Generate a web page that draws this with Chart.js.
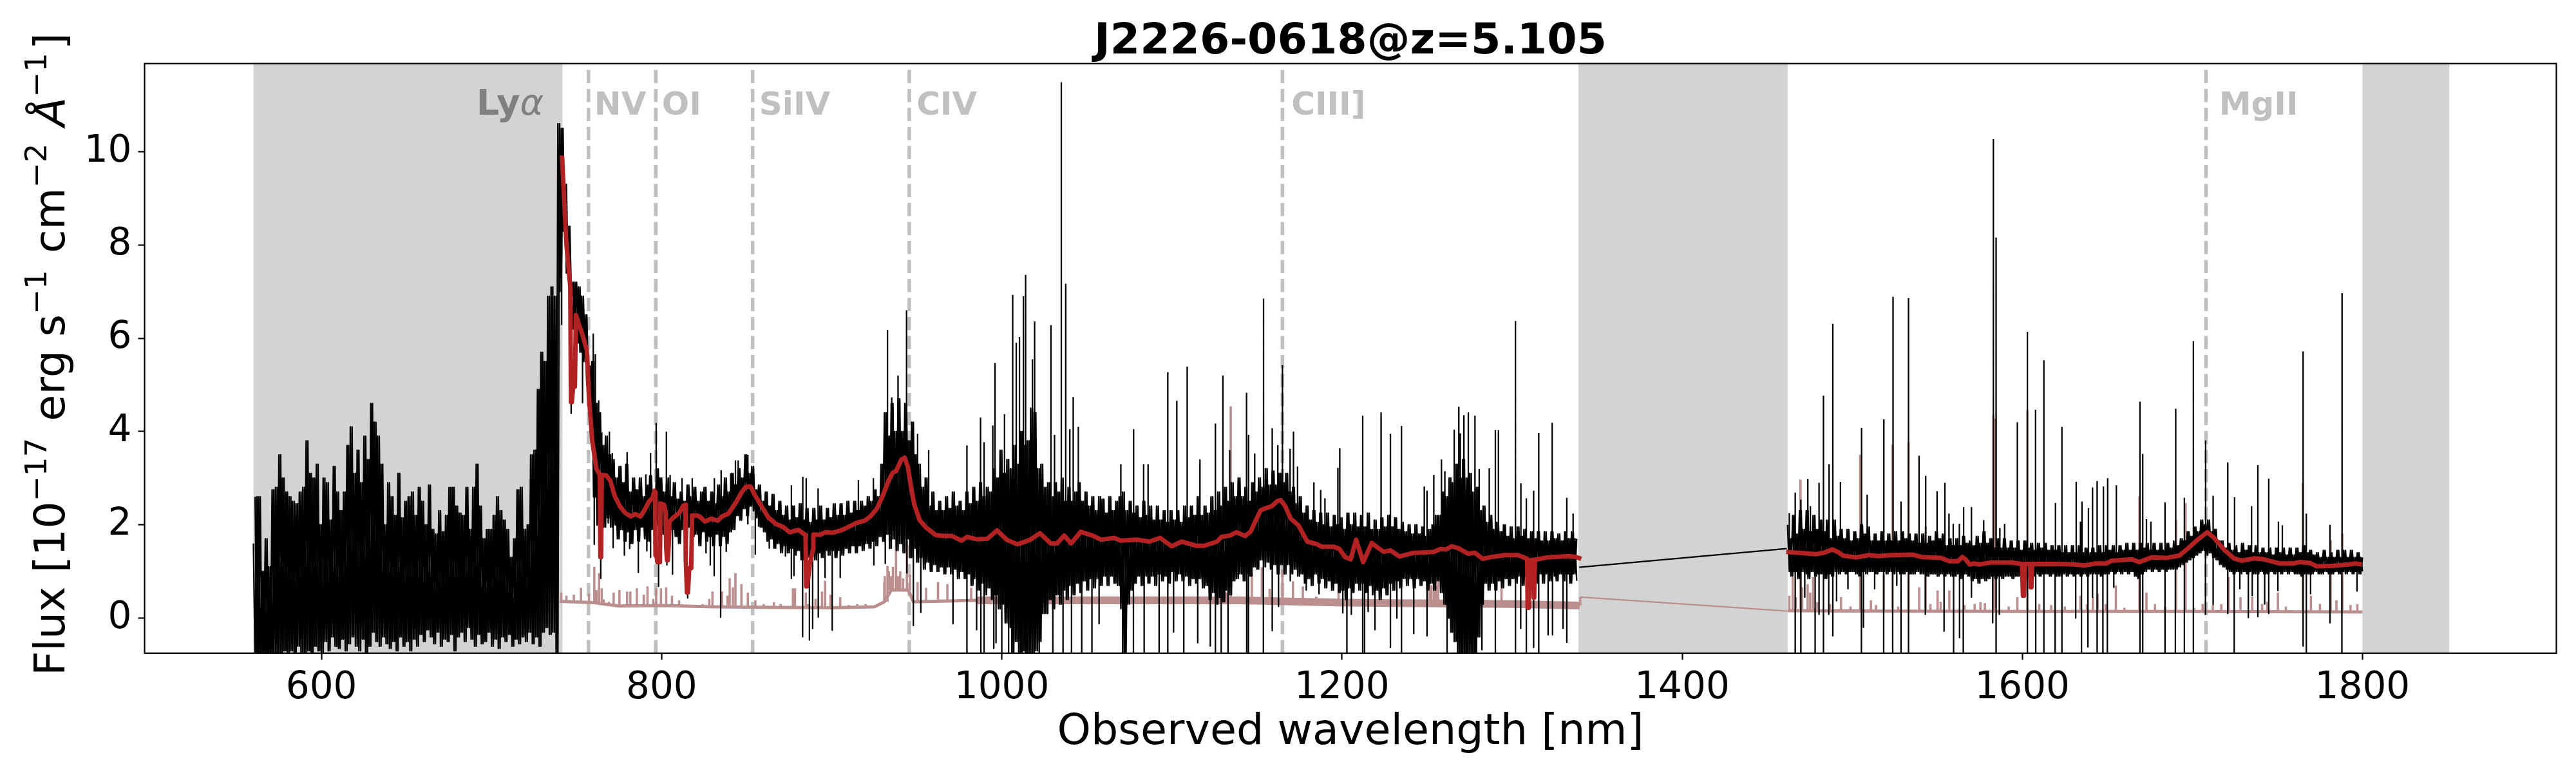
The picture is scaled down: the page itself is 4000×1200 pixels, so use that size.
<!DOCTYPE html>
<html>
<head>
<meta charset="utf-8">
<title>J2226-0618</title>
<script src="https://cdn.jsdelivr.net/npm/chart.js@4"></script>
<style>
  html, body { margin: 0; padding: 0; background: #fff; }
  canvas { display: block; }
</style>
</head>
<body>
<canvas id="spectrum" width="4000" height="1200"></canvas>
<script>
const xTicks = [600, 800, 1000, 1200, 1400, 1600, 1800];
const yTicks = [0, 2, 4, 6, 8, 10];
const xRange = [496, 1914];
const yRange = [-0.753, 11.89];

// grey masked regions, nm
const spanStart = [560, 1339, 1800];
const spanEnd = [741.7, 1462, 1851];

const lineNames = ["NV", "OI", "SiIV", "CIV", "CIII]", "MgII"];
const lineWaves = [757, 796.6, 853.5, 945.6, 1165, 1708];
const lyaWave = 742;

const visStart = 560;
const visHigh = [
  1.6,2.6,2.6,1.0,1.7,1.1,2.75,2.8,3.5,3.0,
  2.7,2.6,2.5,2.45,2.7,2.8,3.8,3.1,3.0,3.3,
  2.0,3.0,2.9,2.1,3.25,2.7,2.3,2.7,3.7,4.1,
  3.1,3.6,2.9,3.9,3.4,4.6,4.2,3.9,3.3,2.0,
  2.9,2.6,2.2,3.1,2.15,2.5,2.6,2.7,2.2,2.8,
  2.5,2.0,2.85,1.9,1.8,2.3,1.85,2.2,2.8,2.8,
  2.4,2.25,2.2,2.8,1.9,2.8,3.3,2.4,1.7,1.9,
  1.9,2.2,2.6,2.3,2.1,1.9,1.3,1.7,2.75,2.8,
  1.9,2.0,3.5,3.6,4.9,5.7,5.5,6.9,7.1,6.9,
  10.6,10.5,9.3,8.4,7.2,7.2,7.1,6.9,6.5,5.4,
  5.5,4.6,4.4,3.7,3.9,3.5,3.4,3.0,3.25,2.9,
  3.3,2.7,3.0,2.75,3.0,2.6,2.85,3.05,2.7,3.2,
  3.0,2.7,3.0,2.6,2.9,2.55,2.7,2.5,2.85,2.6,
  2.8,2.5,2.7,2.8,2.5,2.7,2.45,2.85,2.6,3.0,
  2.7,3.1,2.85,3.2,3.0,3.5,3.1,3.25,2.75,2.85,
  2.5,2.7,2.4,2.65,2.3,2.5,2.2,2.4,2.1,2.4,
  2.15,2.45,2.1,2.35,2.05,2.35,2.1,2.4,2.1,2.35,
  2.15,2.45,2.2,2.45,2.2,2.5,2.25,2.5,2.3,2.5,
  2.4,2.6,2.5,2.75,2.6,3.3,4.4,3.9,4.6,4.0,
  4.7,4.0,4.6,3.8,4.2,3.5,3.3,2.8,3.0,2.4,
  2.7,2.3,2.5,2.3,2.6,2.35,2.7,2.4,2.5,2.3,
  2.7,2.45,2.8,2.5,2.9,2.6,2.8,2.7,3.2,3.0,
  3.6,3.1,3.4,3.2,3.7,3.3,4.0,3.7,3.8,4.5,
  4.4,3.2,3.3,2.8,2.9,2.6,2.9,2.7,3.0,2.5,
  2.8,2.5,2.7,2.9,2.5,2.7,2.4,2.6,2.3,2.6,
  2.55,2.25,2.6,2.3,2.5,2.6,2.7,2.3,2.5,2.25,
  2.4,2.15,2.5,2.2,2.4,2.1,2.4,2.1,2.3,2.05,
  2.3,2.1,2.3,2.05,2.4,2.15,2.4,2.2,2.6,2.2,
  2.4,2.25,2.6,2.3,2.7,2.4,2.8,2.5,2.9,2.6,
  3.0,2.6,2.8,2.5,2.9,2.7,3.0,2.8,3.2,2.85,
  3.15,2.85,3.1,2.9,3.1,2.7,2.8,2.45,2.6,2.25,
  2.4,2.1,2.3,2.05,2.25,2.0,2.25,1.95,2.2,2.0,
  2.15,1.9,2.25,2.0,2.25,1.95,2.2,1.95,2.25,1.9,
  2.1,1.9,2.15,1.95,2.2,1.95,2.15,1.9,2.05,1.85,
  2.0,1.8,2.0,1.8,1.95,1.75,1.9,2.0,2.2,2.2,
  2.7,2.6,3.0,2.9,3.3,3.0,3.4,3.0,3.1,2.7,
  2.8,2.3,2.4,2.05,2.2,1.9,2.05,1.85,2.0,1.75,
  1.95,1.7,1.95,1.75,1.9,1.7,1.85,1.7,1.85,1.65,
  1.85,1.65,1.85,1.7,1.8,1.65,1.85,1.7,1.85,1.7
];
const visLow = [
  -1,-1,-1,-1,-1,-0.9,-0.8,-0.9,-0.8,-0.7,
  -0.8,-0.7,-0.9,-0.6,-0.75,-0.8,-0.7,-0.9,-0.6,-0.7,
  -0.8,-0.5,-0.7,-0.4,-0.6,-0.65,-0.45,-0.7,-0.55,-0.4,
  -0.6,-0.7,-0.45,-0.8,-0.6,-0.3,-0.5,-0.6,-0.4,-0.55,
  -0.65,-0.5,-0.7,-0.4,-0.6,-0.5,-0.7,-0.45,-0.6,-0.35,
  -0.5,-0.25,-0.4,-0.55,-0.3,-0.6,-0.45,-0.5,-0.35,-0.7,
  -0.4,-0.3,-0.5,-0.2,-0.45,-0.6,-0.35,-0.55,-0.5,-0.3,
  -0.6,-0.45,-0.65,-0.4,-0.5,-0.35,-0.6,-0.45,-0.55,-0.4,
  -0.5,-0.3,-0.55,-0.4,-0.6,-0.3,-0.2,-0.35,-0.3,-0.9,
  7.0,8.3,7.4,6.8,6.2,5.9,5.7,5.5,5.0,4.2,
  2.6,2.0,2.3,1.95,2.15,1.95,2.0,1.7,1.9,1.65,
  1.85,1.6,1.9,1.65,1.95,1.7,1.65,1.9,1.75,2.0,
  1.8,1.95,1.7,1.9,1.75,1.6,1.9,1.7,1.95,1.75,
  1.8,1.55,1.85,1.65,1.75,1.55,1.8,1.55,1.75,1.6,
  1.85,1.9,2.2,2.1,2.35,2.2,2.4,2.3,2.15,1.95,
  1.85,1.65,1.7,1.5,1.6,1.4,1.55,1.4,1.5,1.35,
  1.45,1.25,1.4,1.3,1.45,1.25,1.4,1.3,1.45,1.35,
  1.45,1.3,1.45,1.35,1.5,1.4,1.55,1.4,1.55,1.45,
  1.6,1.5,1.65,1.55,1.75,1.65,1.8,1.5,1.7,1.45,
  1.6,1.4,1.7,1.3,1.5,1.2,1.3,1.05,1.2,1.0,
  1.15,1.0,1.1,0.95,1.1,0.95,1.05,0.85,1.0,0.85,
  0.95,0.7,0.85,0.6,0.75,0.5,0.65,0.4,0.5,0.2,
  0.3,-0.1,-0.2,-0.8,-0.5,-0.9,-0.7,-1,-0.8,-1,
  -0.7,-0.5,0.1,0.1,0.4,0.2,0.5,0.3,0.6,0.4,
  0.7,0.5,0.75,0.55,0.8,0.6,0.85,0.65,0.85,0.7,
  0.9,0.7,0.9,0.75,0.7,0.2,-0.9,0.3,0.6,0.75,
  0.9,0.7,0.9,0.75,0.9,0.7,0.95,0.8,0.9,0.75,
  1.0,0.8,0.95,0.8,0.9,0.7,0.85,0.75,0.85,0.65,
  0.7,0.4,0.55,0.3,0.45,0.35,0.6,0.5,0.8,0.85,
  0.95,0.8,0.95,0.9,1.1,1.05,1.25,1.1,1.2,1.05,
  1.15,0.95,1.15,0.95,1.15,0.95,1.05,0.9,0.95,0.75,
  0.85,0.7,0.95,0.75,0.85,0.65,0.8,0.6,0.75,0.55,
  0.6,0.4,0.65,0.55,0.75,0.6,0.75,0.55,0.7,0.5,
  0.6,0.4,0.65,0.5,0.75,0.6,0.8,0.65,0.85,0.7,
  0.85,0.65,0.85,0.7,0.8,0.6,0.75,0.6,0.8,0.55,
  0.3,0,-0.3,-0.5,-0.9,-1,-1,-1,-0.9,-1,
  -0.4,0.3,0.75,0.6,0.75,0.6,0.8,0.65,0.85,0.7,
  0.85,0.75,0.9,0.7,0.9,0.75,0.9,0.75,0.95,0.75,
  0.95,0.8,0.9,0.8,0.95,0.8,0.95,0.75,0.95,0.8
];
const nirStart = 1462;
const nirHigh = [
  2.0,1.7,2.2,1.8,2.3,1.9,2.3,1.85,2.2,1.9,
  2.1,1.85,2.1,1.7,2.1,1.75,1.9,1.7,1.9,1.65,
  1.85,1.7,2.0,1.8,1.95,1.65,1.8,1.65,1.85,1.65,
  1.8,1.65,1.85,1.65,1.85,1.7,1.8,1.65,1.8,1.6,
  1.8,1.6,1.75,1.65,1.85,1.7,1.8,1.55,1.7,1.55,
  1.7,1.55,1.75,1.6,1.65,1.55,1.75,1.6,1.85,1.6,
  1.7,1.5,1.7,1.5,1.7,1.5,1.65,1.5,1.65,1.45,
  1.65,1.5,1.6,1.45,1.6,1.5,1.6,1.45,1.55,1.45,
  1.55,1.4,1.55,1.4,1.55,1.4,1.55,1.4,1.5,1.4,
  1.5,1.4,1.55,1.4,1.55,1.45,1.55,1.4,1.55,1.45,
  1.6,1.45,1.6,1.45,1.6,1.5,1.6,1.45,1.6,1.45,
  1.6,1.45,1.6,1.5,1.65,1.55,1.7,1.65,1.85,1.75,
  1.95,1.85,2.1,2.0,2.1,1.85,1.9,1.65,1.65,1.5,
  1.6,1.45,1.55,1.4,1.6,1.45,1.55,1.4,1.55,1.4,
  1.5,1.4,1.5,1.35,1.5,1.4,1.5,1.35,1.5,1.35,
  1.5,1.4,1.55,1.4,1.45,1.35,1.4,1.3,1.45,1.3,
  1.4,1.3,1.45,1.3,1.45,1.3,1.45,1.3,1.4,1.3
];
const nirLow = [
  1.0,0.9,1.0,0.85,1.0,0.95,0.85,1.0,0.9,0.95,
  0.95,0.85,0.95,0.9,1.0,0.95,1.0,0.95,1.0,1.0,
  0.95,0.9,1.0,0.95,1.0,1.0,0.95,1.0,1.0,0.95,
  1.0,0.95,1.0,0.95,0.95,1.0,0.95,0.95,1.0,0.95,
  0.95,0.9,0.95,0.95,0.9,0.95,0.9,0.95,0.9,0.9,
  0.95,0.85,0.95,0.9,0.8,0.85,0.75,0.85,0.8,0.85,
  0.9,0.85,0.9,0.85,0.9,0.9,0.85,0.9,0.9,0.9,
  0.9,0.85,0.9,0.95,0.9,0.95,0.95,0.9,0.95,0.9,
  0.9,0.95,0.9,0.95,0.9,0.95,0.9,0.95,0.9,0.95,
  0.95,0.95,0.9,0.95,0.95,1.0,0.95,1.0,0.95,1.0,
  0.95,1.0,0.9,0.85,0.95,1.0,1.05,1.0,1.05,1.0,
  1.05,1.0,1.05,1.05,1.05,1.1,1.15,1.2,1.25,1.3,
  1.35,1.4,1.45,1.35,1.4,1.3,1.25,1.15,1.1,1.05,
  1.0,0.95,1.0,0.95,1.0,0.95,1.0,0.95,0.95,1.0,
  0.95,0.95,1.0,0.95,1.0,0.95,1.0,0.95,1.0,0.95,
  0.95,0.9,0.95,0.95,0.95,1.0,0.95,0.95,1.0,0.95,
  0.95,1.0,0.95,1.0,0.95,1.0,0.95,1.0,0.95,1.0
];
// thin line across the gap
const gapWave = [1339.5, 1461.5];
const gapFlux = [1.09, 1.49];

// single pixels sticking out of the noise
const peakWave = [
  759.8,761,763,764.8,769.3,771,776,779.7,790.7,793.5,796.8,802.8,805,812,818,831,835,840.6,843.4,845,850.7,
  876.3,883,885,892,915.7,924.5,932.8,935.3,939,944,
  950.5,957,979.5,987.5,989.6,994.7,996,1001.6,1006.4,1008.5,1010.4,1012.7,1014,1018,1019.3,1028.9,1031,1035,1037.6,1040,1042,1045,
  1070,1077.5,1083.4,1086,1097.6,1102.9,1109,1116.5,1125.6,1130,1134,
  1143.9,1145.1,1148.7,1153.9,1159,1162.3,1165,1169.5,1171.5,1173.9,1183.5,1187.5,1190,1197.6,1198.7,1212.2,1223,1228.5,1235,
  1248.4,1250,1254,1258.5,1260.5,1266,1268.7,1269.6,1271.7,1274.3,1278.2,1280.7,1286.6,1290.2,1292,1302,1305.2,1308.4,1312.7,1315.7,1323.6,1332.2,1335.9,
  1463,1466.5,1469.8,1473.9,1475.4,1480.5,1483.1,1486.4,1488.6,1493.1,1505.5,1508.8,1518.6,1524,1528.7,1533.1,1539.3,1543.2,1549.9,1554.5,1556.9,1559.4,1563,1565.5,1570.1,1577.3,
  1583,1584.6,1586.8,1589.6,1597.1,1603,1607.8,1612.7,1619.5,1623.3,
  1631.7,1634.2,1635.1,1638.9,1641.3,1644,1647.7,1650.2,1655.3,1669.2,1670.8,1673,1675.6,1683.9,1690.2,1695.3,1700.6,1707.8,1712.2,1720.8,1724.8,1734.8,1738.5,1744.9,1750.6,1752.9,1765.1,1767,1780.9,1788
];
const peakFlux = [
  6.1,5.66,4.67,3.98,4.0,3.54,3.26,3.56,3.08,3.54,4.18,4.0,3.07,3.0,3.0,3.0,3.17,3.1,3.38,3.38,3.5,
  2.85,3.03,3.0,2.78,2.96,3.0,6.18,4.73,5.2,6.6,
  3.95,3.6,3.7,4.3,3.77,4.13,5.47,4.37,6.93,5.9,6.03,6.9,7.36,5.55,6.36,6.28,3.93,11.49,7.17,4.05,4.74,4.1,
  3.3,4.05,3.3,3.3,5.27,4.66,5.39,3.4,4.17,5.2,3.6,
  4.83,3.93,3.53,6.85,4.07,3.71,5.42,3.63,4.0,3.25,2.91,2.75,2.57,3.22,3.64,4.34,4.41,3.95,4.12,
  2.82,2.73,3.07,3.4,3.15,4.04,4.53,3.96,4.35,4.41,4.34,3.2,3.21,4.03,4.03,6.37,2.89,2.57,2.73,3.97,4.19,2.58,2.24,
  2.25,2.69,2.54,2.98,2.4,2.9,4.77,3.3,6.31,2.92,4.08,2.65,4.26,6.89,2.5,6.86,3.48,3.05,2.72,2.9,2.24,2.02,2.02,2.38,2.38,2.1,
  10.27,8.16,1.93,2.02,4.2,6.14,4.47,5.53,2.47,4.1,
  2.92,2.07,2.5,2.36,2.8,2.94,2.82,3.0,2.85,4.64,3.52,2.12,2.07,2.48,4.49,2.58,5.94,3.81,2.62,3.34,2.59,2.4,3.28,2.99,2.07,1.99,5.72,2.24,2.0,6.97
];
const dipWave = [
  741.2,746.8,753.5,760.4,764.2,766.7,768.6,771.5,778.1,781.2,786.3,791.3,793.5,798.2,803.1,806.4,815.3,826.1,828.6,830.9,834.7,838,
  850.7,855.1,857,863.3,872.8,876.3,877.8,882.9,886.9,888.8,892.1,896.1,900.3,905,924.8,931.5,934,
  944.2,948,952.4,971.3,979.5,985.2,987.7,989.6,995.3,996.6,1000,1004,1006,1012,1022,1030,1036,1041,1047,1053,1057.2,
  1071,1072.5,1077.4,1083.7,1092.5,1097.6,1101,1107,1115.2,1122.6,1125.6,1129,1133,
  1144,1145,1153.8,1159,1162.7,1169.6,1179,1186.5,1200.5,1202.9,1205.5,1212.2,1213.3,1215.4,1219.4,1228.5,1232.3,1235,1242.2,1250,1261.8,
  1282.3,1290.2,1302,1305.1,1308.4,1312.7,1315.7,1321.2,1323.8,1330,1332.2,
  1466.5,1469.8,1472.1,1478.2,1480.5,1483.1,1486.2,1488.6,1490.8,1497.5,1505.4,1506.6,1513.2,1518.5,1523.8,1526.2,1528.7,1533.1,1543,1554,1559.6,1563.1,1565.3,1570.1,1582.6,1584.6,1586.5,1603,1607.9,1612.7,1619.3,1623.3,1631.4,
  1634.8,1638.6,1641.3,1644,1647.4,1650,1653.8,1669.2,1670.8,1683.9,1690,1695.3,1700.6,1707.7,1712.2,1720.8,1724.6,1727.9,1732.9,1735.2,1738.5,1742.5,1744.9,1750.3,1765.1,1767,1769.5,1780.9,1787.9,1796.8
];
const dipFlux = [
  6.3,4.39,4.62,1.58,0.85,2.13,2.04,1.51,1.35,1.49,0.98,1.44,1.3,0.68,1.14,0.94,0.43,1.4,1.14,0.91,0.02,1.43,
  2.02,1.37,1.97,1.5,1.33,0.85,0.91,-0.4,-0.47,-0.22,0.02,0.87,-0.26,0.87,1.14,1.17,1.49,
  0.97,-0.16,0.12,-0.12,-0.8,-0.25,-0.8,-0.8,-0.65,-0.53,-0.8,-0.8,-0.8,-0.8,-0.8,-0.8,-0.8,-0.8,-0.8,-0.8,-0.12,
  -0.8,-0.8,-0.8,-0.8,-0.8,-0.8,-0.3,-0.8,-0.53,-0.6,-0.8,-0.8,-0.8,
  -0.8,-0.8,-0.8,-0.27,0.25,0.8,0.6,0.52,0.11,-0.8,0.08,-0.8,-0.8,0.14,-0.25,-0.63,0,-0.8,-0.33,-0.38,-0.8,
  -0.68,-0.8,-0.8,-0.22,-0.8,-0.63,-0.8,-0.36,-0.36,-0.22,-0.52,
  -0.8,-0.8,0.45,-0.8,0.08,-0.8,0.08,-0.38,0.37,0.63,-0.8,-0.2,0.63,-0.8,-0.8,0.7,-0.8,-0.8,0.08,-0.28,-0.8,-0.42,-0.8,0.45,-0.1,-0.8,0.08,-0.8,-0.8,-0.8,-0.8,-0.8,0,
  -0.8,-0.62,0.45,-0.8,-0.8,-0.8,0.66,-0.8,-0.8,-0.75,-0.8,-0.8,-0.8,0.08,0.29,0.1,-0.8,0.63,0.01,0.48,0.03,0.3,0.1,0.59,-0.6,-0.8,0.52,-0.1,-0.8,0.58
];

// rosybrown error spectrum, narrow peaks on a flat floor
const errWave = [
  741,744,748.4,752.6,757.3,760.4,761.7,763.2,764.8,771.8,775.2,779.7,781.6,785.4,789.5,791.7,795.1,796.8,799.6,802.7,806.1,810.3,828,829.9,835.5,838.7,840,841.9,843.4,846.9,850.7,855.1,877.2,878.4,884.8,890.5,894.3,896.1,899.3,905,930.9,931.2,932.8,933.6,934.7,936,937.8,939.1,940.3,942,
  944.2,946,950.5,955.5,962.5,968,982,1070.4,1126,1132,1134.6,
  1147,1152.9,1157.5,1165,1171.2,1177,1184.9,1198,1251.4,1252.5,1254,1255.2,1256.6,1265,1293.8,1340.1,
  1463,1465,1466.8,1469.6,1470.6,1473.8,1475.3,1477,1479.5,1493.4,1504.7,1511,1518.6,1523.7,1533.1,1539.4,1543.2,1550.2,1557.1,1575.4,1583,1584.3,1597.1,1603,
  1634.2,1641.5,1644.3,1655,1668.9,1673,1690.4,1696,1721.3,1728.3,1735.2,1750.3,1764.9,1769.7,1781.3,1784.7,1788.2,
  766,769,812,820,824,860,866,870,886,910,915,920,
  1487,1499,1514,1527,1546,1552,1566,1572,1578,1592,1610,1617,1625,1638,1649,1660,1678,1684,1701,1706,1712,1717,1741,1744,1755,1775,1793,1797
];
const errFlux = [
  0.55,0.48,0.5,0.65,0.52,1.1,0.6,0.96,0.64,0.55,0.6,0.57,0.57,0.64,0.5,0.68,0.41,0.64,0.64,0.66,0.48,0.38,0.41,0.57,0.57,0.48,0.85,0.66,0.96,0.73,0.55,0.38,0.64,0.64,0.55,0.41,0.57,0.8,0.5,0.45,0.77,0.9,1.12,1.0,0.9,1.1,1.74,0.9,1.0,0.85,
  1.66,0.93,0.77,0.65,0.77,0.73,0.65,0.6,0.75,0.55,4.54,
  0.96,1.09,0.63,1.04,0.79,0.68,0.46,0.63,0.79,0.7,0.85,0.7,0.79,0.68,0.85,0.45,
  0.48,0.88,0.45,2.97,0.66,0.73,0.55,0.88,0.34,0.45,3.5,0.38,0.95,3.73,3.77,0.66,1.96,0.59,0.59,0.34,4.35,4.28,0.45,4.46,
  0.48,0.45,0.52,0.7,2.61,0.55,2.1,2.47,0.88,0.45,0.45,0.55,2.9,0.48,1.67,0.38,1.82,
  0.4,0.35,0.3,0.28,0.3,0.3,0.34,0.3,0.3,0.28,0.3,0.3,
  0.3,0.25,0.28,0.25,0.3,0.35,0.28,0.3,0.32,0.25,0.3,0.28,0.25,0.3,0.3,0.22,0.3,0.25,0.22,0.3,0.28,0.3,0.3,0.35,0.25,0.3,0.28,0.3
];
const errFloorVisWave = [740,760,775,800,830,860,900,925,931,935,945,948,985];
const errFloorVisFlux = [0.36,0.33,0.26,0.27,0.24,0.23,0.22,0.24,0.35,0.6,0.6,0.35,0.38];
const errBandWave = [985,1060,1140,1200,1300,1339.8];
const errBandFlux = [0.38,0.38,0.38,0.33,0.3,0.27];
const errFloorNirWave = [1462,1520,1600,1700,1800];
const errFloorNirFlux = [0.16,0.15,0.14,0.14,0.13];
const errGapWave = [1340.1, 1461.8];
const errGapFlux = [0.45, 0.15];

// red model, the narrow drops are its absorbers
const contWave = [
  741.4,744,746.3,746.7,747.2,748,749,749.6,750.4,753.5,756,757.3,759.2,761.7,763.6,764,764.4,764.8,767.4,769.9,772.4,775.6,778.7,781.9,784.4,787.6,790,792.6,794.5,795.8,796.2,796.4,797,797.5,799,799.3,801.4,802.4,802.7,803.2,803.6,804.2,804.6,807.1,810.3,812.8,814,814.2,814.9,815.5,816.2,817.4,817.9,821,822.9,825.4,829.2,833,835.5,839.3,843.7,846.9,849.4,852.3,855.1,858.9,862.7,867.1,871.5,875.3,880.4,884.6,885,885.5,887.3,889,889.2,893.6,896.1,900.6,906.2,910.7,914.5,919.5,922.7,926.5,930.2,933.4,935.9,937.8,941,
  942.9,944.8,946.7,948.6,951.7,955.5,961.2,965.6,970.7,976.4,979.5,985.2,991.5,997.2,1002.9,1009.2,1016.8,1022.4,1028.8,1032.5,1036.7,1040.7,1046.4,1053.4,1058.4,1066,1069.8,1079.9,1086.8,1093.1,1099.8,1105.8,1114.6,1119,1126.6,1129.1,1134.2,1137.9,
  1143.1,1146.4,1149,1152.2,1154.9,1158.8,1162,1164,1166.6,1169.9,1174.4,1179.6,1184.9,1188.1,1195.3,1198.5,1201.8,1205.1,1208.3,1212.5,1217.5,1221.4,1224.6,1228.5,1233.8,1242.2,1249.4,1254,1257.9,1261.2,1264.4,1268.3,1274.2,1278.1,1282.7,1287.9,1295.7,1303.5,1308.9,1309.2,1309.8,1310.2,1312.4,1312.7,1313,1313.4,1320.5,1333.5,1337.5,1340.7,
  1400,
  1461.2,1478.8,1483.3,1488.3,1491.5,1494.6,1502.2,1509.8,1515.5,1523,1535.7,1540.7,1552.1,1557.1,1562.2,1564.7,1566.6,1569.1,1571.6,1574.8,1581.1,1593.7,1599.8,1600.4,1601,1601.4,1604.6,1605,1605.4,1605.8,1620.9,1630.4,1636.7,1643,1649.3,1652.5,1664.5,1668.9,1675.9,1684.7,1692.3,1697.3,1702.4,1708.7,1712.5,1718.8,1724.5,1728.9,1736.5,1742.1,1751.6,1759.2,1763,1769.3,1773.1,1781.9,1792,1795.8,1799.6
];
const contFlux = [
  9.92,8.03,7.1,4.63,4.63,5.0,4.96,6.5,6.4,6.07,5.75,4.73,3.8,3.2,3.07,1.31,1.31,3.07,3.06,2.94,2.62,2.39,2.25,2.18,2.23,2.18,2.32,2.5,2.57,2.73,2.7,1.35,1.35,1.2,1.2,2.46,2.43,2.25,1.5,1.24,1.24,1.6,2.07,2.16,2.25,2.41,2.43,1.26,0.55,0.55,1.07,1.07,2.2,2.2,2.16,2.07,2.13,2.09,2.18,2.24,2.48,2.69,2.81,2.82,2.62,2.39,2.16,2.02,1.95,1.84,1.89,1.78,0.68,0.68,1.19,1.47,1.79,1.79,1.84,1.83,1.89,1.97,2.04,2.09,2.18,2.34,2.64,2.94,3.12,3.15,3.4,
  3.44,3.24,2.79,2.43,2.1,1.94,1.78,1.76,1.76,1.66,1.74,1.69,1.7,1.88,1.68,1.58,1.68,1.82,1.6,1.6,1.77,1.6,1.85,1.77,1.68,1.72,1.66,1.68,1.64,1.72,1.54,1.64,1.55,1.55,1.64,1.74,1.77,1.84,
  1.76,1.86,2.07,2.31,2.35,2.4,2.51,2.53,2.4,2.13,1.99,1.64,1.59,1.53,1.53,1.48,1.31,1.26,1.68,1.2,1.61,1.5,1.42,1.45,1.32,1.4,1.41,1.42,1.48,1.47,1.54,1.5,1.38,1.4,1.27,1.31,1.35,1.35,1.27,0.22,0.22,1.23,1.25,0.44,0.44,1.25,1.3,1.33,1.31,1.27,
  NaN,
  1.42,1.37,1.4,1.47,1.42,1.34,1.3,1.35,1.33,1.35,1.36,1.31,1.29,1.22,1.22,1.31,1.26,1.15,1.17,1.15,1.19,1.19,1.16,0.48,0.48,1.16,1.16,0.66,0.66,1.16,1.16,1.15,1.13,1.17,1.17,1.23,1.26,1.2,1.3,1.29,1.34,1.49,1.66,1.84,1.73,1.46,1.28,1.23,1.28,1.26,1.17,1.17,1.2,1.18,1.11,1.12,1.15,1.17,1.15
];

// noise drawn as a saw between the two edges, phase 1 fills the holes of phase 0
function zigzag(start, high, low, phase) {
  let pts = [];
  for (let i = 0; i < high.length - phase; i++) {
    pts.push({ x: start + 2 * i + phase, y: high[i + phase] });
    if (i < high.length - 1) pts.push({ x: start + 2 * i + phase + 1, y: low[i + phase] });
  }
  return pts;
}

function pairs(xs, ys) {
  return xs.map((x, i) => ({ x: x, y: ys[i] }));
}

// a spike starts from the nearest entry of a base line, hidden under it
function spikes(xs, ys, baseWave, baseFlux) {
  let pts = [];
  xs.forEach((x, i) => {
    let best = 0;
    baseWave.forEach((w, j) => {
      if (Math.abs(w - x) < Math.abs(baseWave[best] - x) && !isNaN(baseFlux[j])) best = j;
    });
    pts.push({ x: x, y: baseFlux[best] }, { x: x, y: ys[i] }, { x: x, y: NaN });
  });
  return pts;
}

function series(data, color, width, order) {
  return {
    data: data,
    borderColor: color,
    backgroundColor: color,
    borderWidth: width,
    showLine: true,
    pointRadius: 0,
    borderJoinStyle: "round",
    order: order,
  };
}

const errBaseWave = errFloorVisWave.concat(errBandWave, errFloorNirWave);
const errBaseFlux = errFloorVisFlux.concat(errBandFlux, errFloorNirFlux);

let datasets = [
  series(pairs(contWave, contFlux), "#b22222", 7, 0),
  series(zigzag(visStart, visHigh, visLow, 0), "#000", 2.4, 1),
  series(zigzag(visStart, visHigh, visLow, 1), "#000", 2.4, 1),
  series(zigzag(nirStart, nirHigh, nirLow, 0), "#000", 2.4, 1),
  series(zigzag(nirStart, nirHigh, nirLow, 1), "#000", 2.4, 1),
  series(spikes(peakWave, peakFlux, contWave, contFlux), "#000", 2.3, 1),
  series(spikes(dipWave, dipFlux, contWave, contFlux), "#000", 2.3, 1),
  series(pairs(gapWave, gapFlux), "#000", 2.2, 1),
  series(spikes(errWave, errFlux, errBaseWave, errBaseFlux), "#bc8f8f", 3.6, 2),
  series(pairs(errFloorVisWave, errFloorVisFlux), "#bc8f8f", 5, 2),
  series(pairs(errBandWave, errBandFlux), "#bc8f8f", 12, 2),
  series(pairs(errFloorNirWave, errFloorNirFlux), "#bc8f8f", 5, 2),
  series(pairs(errGapWave, errGapFlux), "#bc8f8f", 2.2, 2),
];

// dashed emission line markers
lineWaves.forEach((w) => {
  let d = series([{ x: w, y: yRange[0] }, { x: w, y: yRange[1] }], "#c0c0c0", 5.6, 3);
  d.borderDash = [20.6, 8.9];
  datasets.push(d);
});

const boxPlugin = {
  id: "box",
  beforeDatasetsDraw(chart) {
    let a = chart.chartArea, xs = chart.scales.x, c = chart.ctx;
    c.save();
    c.fillStyle = "#d3d3d3";
    spanStart.forEach((s, i) => {
      let l = xs.getPixelForValue(s), r = xs.getPixelForValue(spanEnd[i]);
      c.fillRect(l, a.top, r - l, a.bottom - a.top);
    });
    c.restore();
  },
  afterDatasetsDraw(chart) {
    let a = chart.chartArea, xs = chart.scales.x, c = chart.ctx;
    c.save();
    c.strokeStyle = "#000";
    c.lineWidth = 2.2;
    c.strokeRect(a.left, a.top, a.right - a.left, a.bottom - a.top);

    // line names sit half a percent redward of the line
    let base = 178;
    c.textBaseline = "alphabetic";
    c.textAlign = "left";
    c.fillStyle = "#c0c0c0";
    c.font = "bold 50px 'DejaVu Sans'";
    lineNames.forEach((n, i) => {
      c.fillText(n, xs.getPixelForValue(lineWaves[i] * 1.0045), base);
    });
    c.fillStyle = "#808080";
    let right = xs.getPixelForValue(lyaWave) - 30;
    c.font = "italic 55.6px 'DejaVu Sans'";
    let aw = c.measureText("α").width;
    c.fillText("α", right - aw, base);
    c.font = "bold 55.6px 'DejaVu Sans'";
    let lw = c.measureText("Ly").width;
    c.fillText("Ly", right - aw - lw, base);

    // y label, rotated, with superscripts
    let parts = [
      ["Flux [10", 0], ["−17", 1], [" erg s", 0], ["−1", 1], [" cm", 0], ["−2", 1], [" ", 0], ["Å", 2], ["−1", 1], ["]", 0],
    ];
    let fontOf = (k) => k == 1 ? "46.7px 'DejaVu Sans'" : k == 2 ? "italic 66.7px 'DejaVu Sans'" : "66.7px 'DejaVu Sans'";
    let supGap = 5;
    let total = 0;
    parts.forEach((p) => { c.font = fontOf(p[1]); total += c.measureText(p[0]).width + (p[1] == 1 ? supGap : 0); });
    c.translate(100, 550);
    c.rotate(-Math.PI / 2);
    c.fillStyle = "#000";
    let x = -total / 2;
    parts.forEach((p) => {
      c.font = fontOf(p[1]);
      c.fillText(p[0], x, p[1] == 1 ? -28 : 0);
      x += c.measureText(p[0]).width + (p[1] == 1 ? supGap : 0);
    });
    c.restore();
  },
};

new Chart(document.getElementById("spectrum"), {
  type: "scatter",
  data: { datasets: datasets },
  plugins: [boxPlugin],
  options: {
    responsive: false,
    devicePixelRatio: 1,
    animation: false,
    events: [],
    layout: { padding: { right: 30.5 } },
    plugins: {
      legend: { display: false },
      tooltip: { enabled: false },
      title: {
        display: true,
        fullSize: false,
        text: "J2226-0618@z=5.105",
        color: "#000",
        font: { family: "'DejaVu Sans'", size: 66.7, weight: "bold", lineHeight: 1.0 },
        padding: { top: 32, bottom: 0 },
      },
    },
    scales: {
      x: {
        type: "linear",
        min: xRange[0],
        max: xRange[1],
        afterFit(scale) { scale.height = 186; },
        afterBuildTicks(scale) { scale.ticks = xTicks.map((v) => ({ value: v })); },
        border: { display: false },
        grid: { drawOnChartArea: false, tickLength: 10, tickWidth: 2.2, tickColor: "#000" },
        ticks: {
          color: "#000",
          maxRotation: 0,
          autoSkip: false,
          padding: 10,
          font: { family: "'DejaVu Sans'", size: 58 },
          callback: (v) => String(v),
        },
        title: {
          display: true,
          text: "Observed wavelength [nm]",
          color: "#000",
          font: { family: "'DejaVu Sans'", size: 66.7 },
          padding: { top: 0, bottom: 22 },
        },
      },
      y: {
        type: "linear",
        min: yRange[0],
        max: yRange[1],
        afterFit(scale) { scale.width = 224.5; },
        afterBuildTicks(scale) { scale.ticks = yTicks.map((v) => ({ value: v })); },
        border: { display: false },
        grid: { drawOnChartArea: false, tickLength: 10, tickWidth: 2.2, tickColor: "#000" },
        ticks: {
          color: "#000",
          autoSkip: false,
          padding: 10,
          font: { family: "'DejaVu Sans'", size: 58 },
          callback: (v) => String(v),
        },
      },
    },
  },
});
</script>
</body>
</html>
